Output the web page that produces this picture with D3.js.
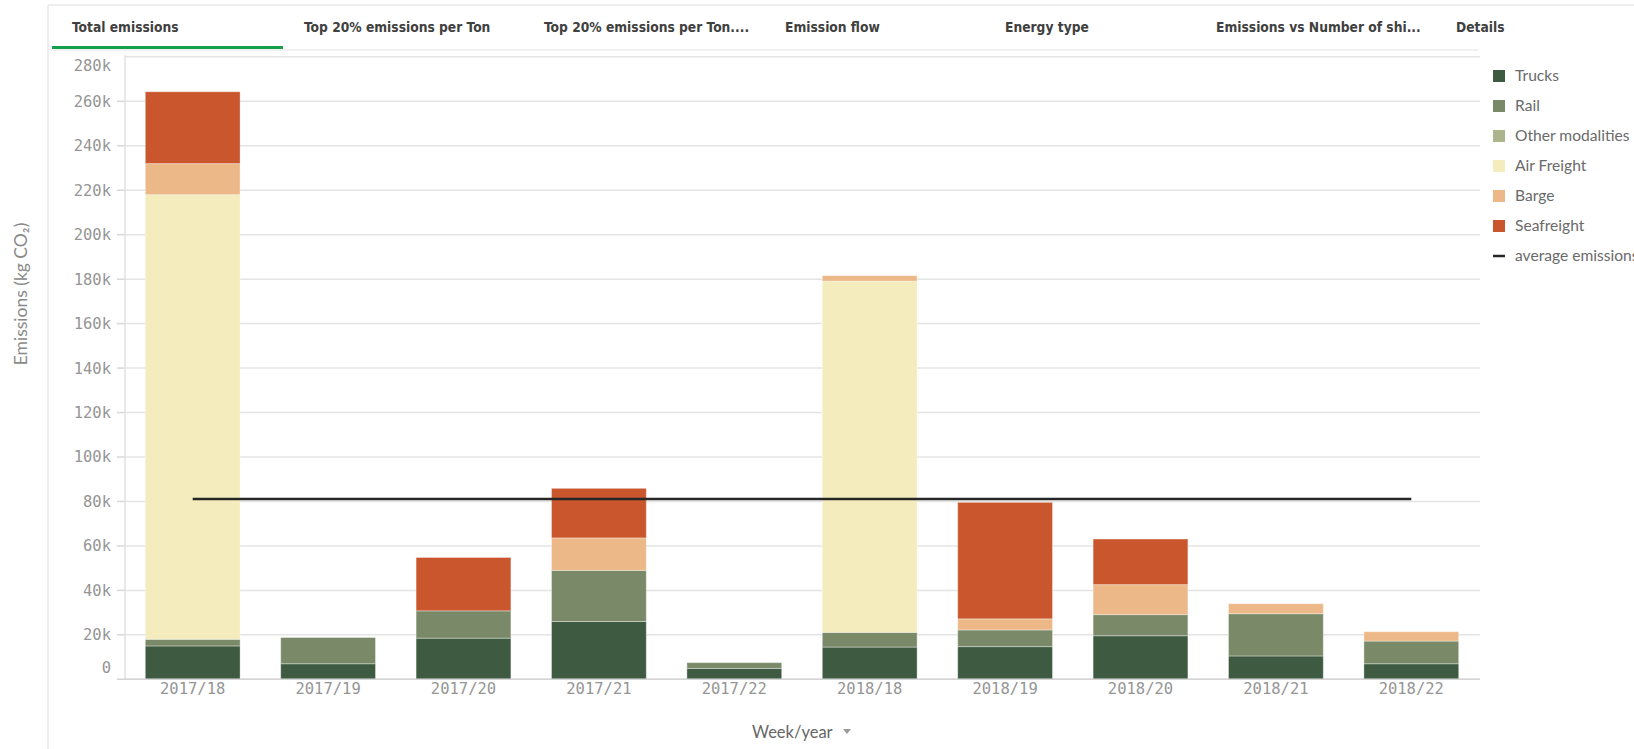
<!DOCTYPE html>
<html>
<head>
<meta charset="utf-8">
<script src="https://cdn.jsdelivr.net/npm/d3@7"></script>
<style>
  html, body { margin: 0; padding: 0; background: #ffffff; }
  svg { display: block; }
</style>
</head>
<body>
<svg id="chart" width="1634" height="749"></svg>
<script>
// ---- data -------------------------------------------------------------
const weeks = ["2017/18","2017/19","2017/20","2017/21","2017/22","2018/18","2018/19","2018/20","2018/21","2018/22"];
const trucks = [15000, 7000, 18500, 26000, 4900, 14500, 14700, 19600, 10500, 7000];
const rail   = [3000, 11800, 12300, 23000, 2600, 6600, 7500, 9500, 19000, 10200];
const otherModalities = [0, 0, 0, 0, 0, 0, 0, 0, 0, 0];
const airFreight = [200000, 0, 0, 0, 0, 158000, 0, 0, 0, 0];
const barge  = [14000, 0, 0, 14600, 0, 2500, 5000, 13500, 4500, 4200];
const seafreight = [32300, 0, 24000, 22300, 0, 0, 52400, 20500, 0, 0];

const seriesNames = ["Trucks","Rail","Other modalities","Air Freight","Barge","Seafreight"];
const seriesColors = ["#3e5a41","#7a8a69","#abb48c","#f4ecbc","#edb887","#c9562c"];
const yTicks = [0,20000,40000,60000,80000,100000,120000,140000,160000,180000,200000,220000,240000,260000,280000];
const tabLabels = ["Total emissions","Top 20% emissions per Ton","Top 20% emissions per Ton....","Emission flow","Energy type","Emissions vs Number of shi...","Details"];
const tabX = [72, 304, 544, 785, 1005, 1216, 1456];

// table for the stack layout
const seriesValues = [trucks, rail, otherModalities, airFreight, barge, seafreight];
const table = weeks.map((w, i) => {
  const row = { week: w };
  seriesNames.forEach((s, k) => { row[s] = seriesValues[k][i]; });
  return row;
});
const totals = table.map(r => d3.sum(seriesNames, s => r[s]));
const averageEmissions = d3.mean(totals);

// ---- layout -----------------------------------------------------------
const svg = d3.select("#chart");
const plot = { left: 125, right: 1479, top: 55, bottom: 679.3 };

const x = d3.scaleBand().domain(weeks).range([plot.left, plot.right])
  .paddingInner(0.3).paddingOuter(0.15);
const y = d3.scaleLinear().domain([0, 280000]).range([plot.bottom, plot.bottom - 14 * 44.46]);
const color = d3.scaleOrdinal().domain(seriesNames).range(seriesColors);

// ---- frame & tabs -----------------------------------------------------
svg.append("line").attr("x1", 48).attr("x2", 1634).attr("y1", 5).attr("y2", 5)
  .attr("stroke", "#e8e8e8").attr("stroke-width", 1.5);
svg.append("line").attr("x1", 48).attr("x2", 48).attr("y1", 5).attr("y2", 749)
  .attr("stroke", "#e8e8e8").attr("stroke-width", 1.5);
svg.append("line").attr("x1", 48).attr("x2", 1478).attr("y1", 50).attr("y2", 50)
  .attr("stroke", "#ececec").attr("stroke-width", 1.5);

svg.append("g").selectAll("text").data(tabLabels).join("text")
  .attr("x", (d, i) => tabX[i]).attr("y", 27).attr("dy", "0.35em")
  .attr("font-family", "'DejaVu Sans Condensed', 'DejaVu Sans', sans-serif")
  .attr("font-stretch", "condensed")
  .attr("font-weight", "bold").attr("font-size", 13.7).attr("fill", "#404040")
  .text(d => d);

svg.append("rect").attr("x", 52).attr("y", 46).attr("width", 231).attr("height", 3)
  .attr("fill", "#14a04a");

// ---- grid & axes ------------------------------------------------------
const grid = svg.append("g");
grid.selectAll("line").data(yTicks).join("line")
  .attr("x1", plot.left).attr("x2", plot.right + 1)
  .attr("y1", d => y(d)).attr("y2", d => y(d))
  .attr("stroke", "#e4e4e4").attr("stroke-width", 1.5);

// tick stubs on the left of the value axis
grid.append("g").selectAll("line").data(yTicks.filter(t => t > 0 && t < 280000)).join("line")
  .attr("x1", 117).attr("x2", plot.left)
  .attr("y1", d => y(d)).attr("y2", d => y(d))
  .attr("stroke", "#d8d8d8").attr("stroke-width", 1.5);

svg.append("line").attr("x1", plot.left).attr("x2", plot.left)
  .attr("y1", plot.top).attr("y2", plot.bottom)
  .attr("stroke", "#e0e0e0").attr("stroke-width", 1.5);

const fmt = v => v === 0 ? "0" : (v / 1000) + "k";
svg.append("g").selectAll("text").data(yTicks).join("text")
  .attr("x", 111)
  .attr("y", d => Math.min(Math.max(y(d), plot.top + 11), plot.bottom - 12))
  .attr("dy", "0.35em").attr("text-anchor", "end")
  .attr("font-family", "'DejaVu Sans Mono', monospace").attr("font-size", 15.5)
  .attr("fill", "#959595")
  .text(fmt);

// ---- stacked bars -----------------------------------------------------
const stack = d3.stack().keys(seriesNames)(table);
svg.append("g").selectAll("g").data(stack).join("g")
  .attr("fill", d => color(d.key))
  .selectAll("rect").data(d => d.filter(p => p[1] - p[0] > 0)).join("rect")
  .attr("x", d => x(d.data.week))
  .attr("width", x.bandwidth())
  .attr("y", d => y(d[1]))
  .attr("height", d => y(d[0]) - y(d[1]))
  .attr("stroke", "rgba(255,255,255,0.35)").attr("stroke-width", 1);

// category axis line and labels
svg.append("line").attr("x1", 117).attr("x2", plot.right + 1)
  .attr("y1", plot.bottom).attr("y2", plot.bottom)
  .attr("stroke", "#d4d4d4").attr("stroke-width", 1.5);

svg.append("g").selectAll("text").data(weeks).join("text")
  .attr("x", d => x(d) + x.bandwidth() / 2).attr("y", 689).attr("dy", "0.35em")
  .attr("text-anchor", "middle")
  .attr("font-family", "'DejaVu Sans Mono', monospace").attr("font-size", 15.5)
  .attr("fill", "#959595")
  .text(d => d);

// ---- average line -----------------------------------------------------
const first = weeks[0], last = weeks[weeks.length - 1];
svg.append("line")
  .attr("x1", x(first) + x.bandwidth() / 2).attr("x2", x(last) + x.bandwidth() / 2)
  .attr("y1", y(averageEmissions)).attr("y2", y(averageEmissions))
  .attr("stroke", "#262626").attr("stroke-width", 2.5);

// ---- axis titles ------------------------------------------------------
svg.append("text")
  .attr("transform", "translate(21,294) rotate(-90)")
  .attr("text-anchor", "middle").attr("dy", "0.35em")
  .attr("font-family", "Lato, sans-serif").attr("font-size", 17.5)
  .attr("fill", "#8a8a8a")
  .text("Emissions (kg CO\u2082)");

svg.append("text").attr("x", 752).attr("y", 732).attr("dy", "0.35em")
  .attr("font-family", "Lato, sans-serif").attr("font-size", 16.5)
  .attr("fill", "#666666").text("Week/year");
svg.append("path").attr("d", "M843,729 L851,729 L847,734 Z").attr("fill", "#9a9a9a");

// ---- legend -----------------------------------------------------------
const legend = svg.append("g");
const rows = legend.selectAll("g").data(seriesNames).join("g")
  .attr("transform", (d, i) => `translate(1493,${76 + i * 30})`);
rows.append("rect").attr("x", 0).attr("y", -6).attr("width", 12).attr("height", 12)
  .attr("fill", d => color(d));
rows.append("text").attr("x", 22).attr("dy", "0.35em")
  .attr("font-family", "Lato, sans-serif").attr("font-size", 15.6)
  .attr("fill", "#6a6a6a").text(d => d);

const avgRow = legend.append("g").attr("transform", `translate(1493,${76 + seriesNames.length * 30})`);
avgRow.append("line").attr("x1", 0).attr("x2", 12).attr("y1", 0).attr("y2", 0)
  .attr("stroke", "#262626").attr("stroke-width", 2.5);
avgRow.append("text").attr("x", 22).attr("dy", "0.35em")
  .attr("font-family", "Lato, sans-serif").attr("font-size", 15.6)
  .attr("fill", "#6a6a6a").text("average emissions");
</script>
</body>
</html>
